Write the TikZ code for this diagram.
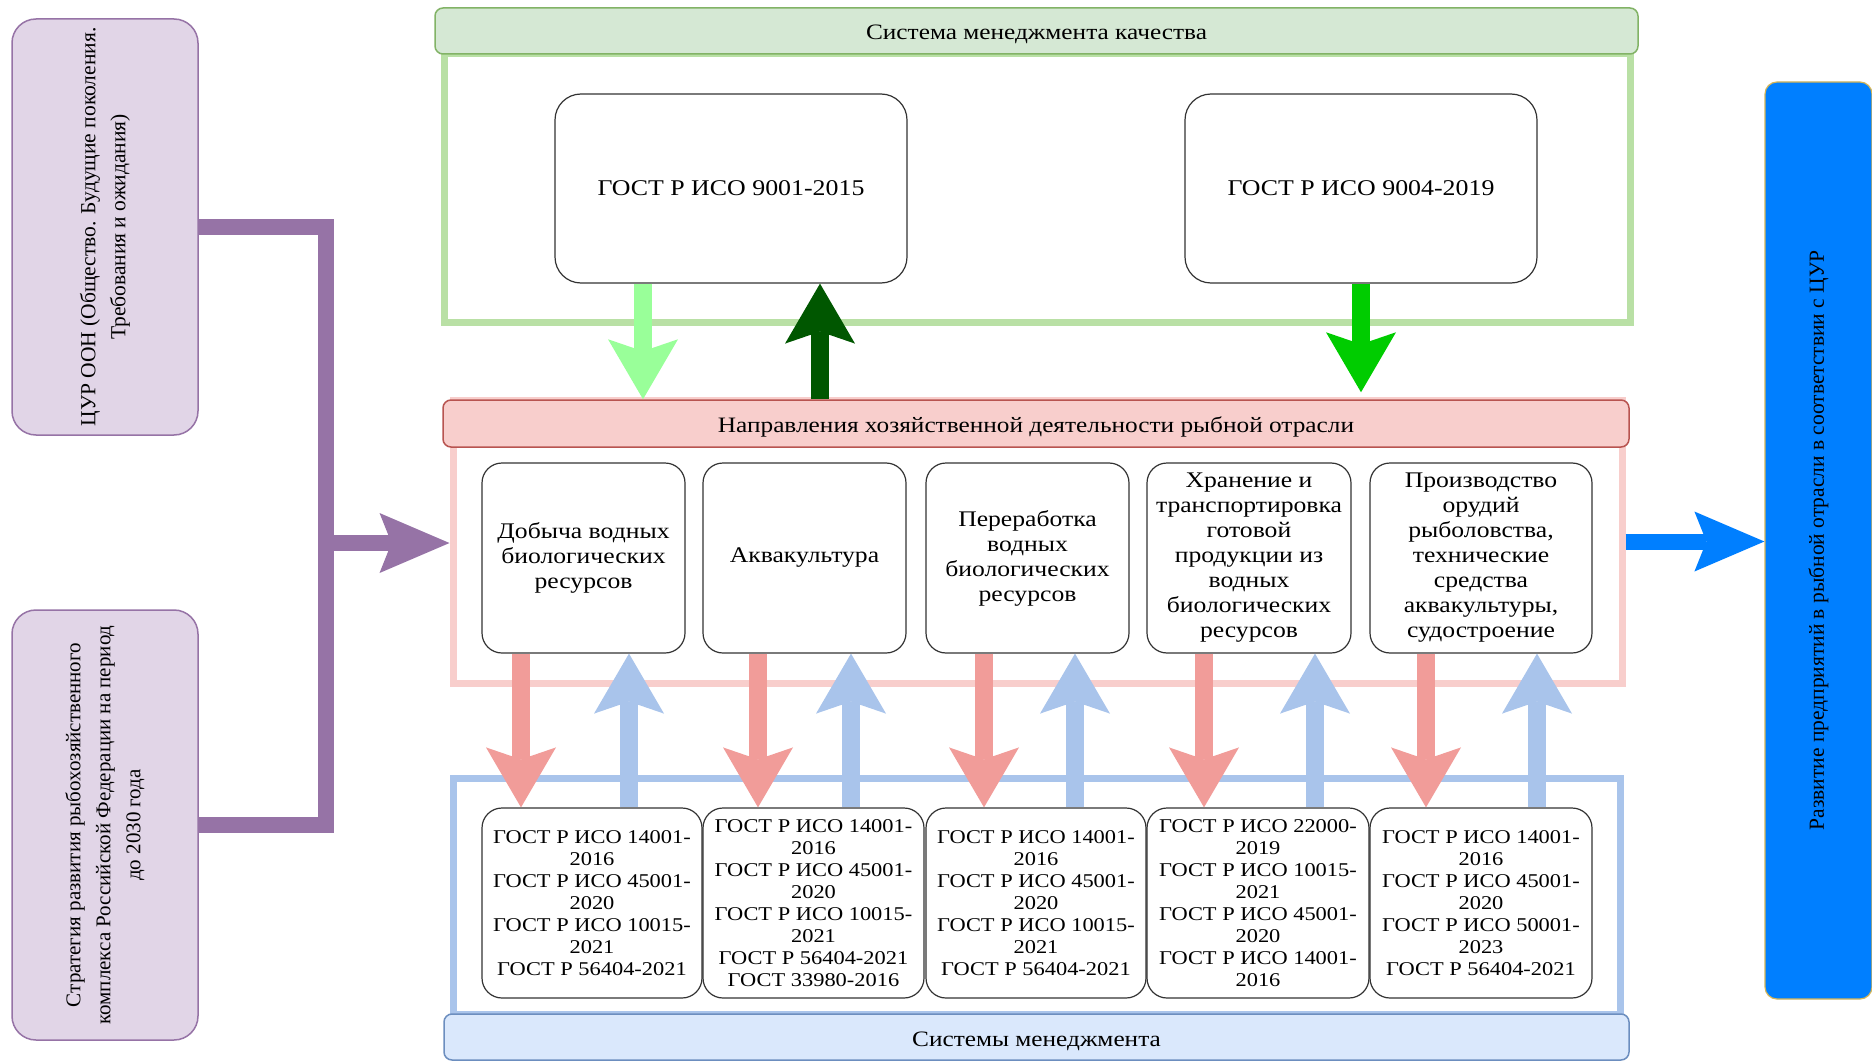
\documentclass[tikz,border=0pt]{standalone}
\usepackage{fontspec}
\setmainfont{Liberation Serif}
\newfontfamily\widefont[FakeStretch=1.15]{Liberation Serif}
\usetikzlibrary{arrows.meta,positioning,calc}

\definecolor{lilac}{HTML}{E1D5E7}
\definecolor{lilacline}{HTML}{9673A6}
\definecolor{qmsfill}{HTML}{D5E8D4}
\definecolor{qmsline}{HTML}{82B366}
\definecolor{qmsgreen}{HTML}{B9E0A5}
\definecolor{dirfill}{HTML}{F8CECC}
\definecolor{dirline}{HTML}{B85450}
\definecolor{msfill}{HTML}{DAE8FC}
\definecolor{msline}{HTML}{6C8EBF}
\definecolor{msblue}{HTML}{A9C4EB}
\definecolor{downred}{HTML}{F19C99}
\definecolor{palegreen}{HTML}{99FF99}
\definecolor{deepgreen}{HTML}{005700}
\definecolor{brightgreen}{HTML}{00CC00}
\definecolor{resultblue}{HTML}{007FFF}
\definecolor{sand}{HTML}{D6B656}

\begin{document}
\begin{tikzpicture}[x=1pt, y=-1pt,
  srcbox/.style={draw=lilacline, fill=lilac, line width=1.5pt, rounded corners=24pt,
    minimum width=186pt},
  lbl/.style={align=center, font=\fontsize{21}{30}\selectfont},
  titlebar/.style={line width=1.5pt, rounded corners=8pt, minimum height=46pt,
    text height=22pt, text depth=4pt, font=\widefont\fontsize{22}{24}\selectfont},
  zone/.style={line width=7pt},
  card/.style={draw=black!80, fill=white, line width=1.2pt, rounded corners=20pt,
    minimum height=190pt, align=center, inner sep=1pt,
    font=\widefont\fontsize{22.3}{25}\selectfont},
  stdcard/.style={card, font=\widefont\fontsize{19.5}{22}\selectfont},
  flow/.style={line width=18pt,
    -{Stealth[length=60pt,width=70pt,inset=12pt,line width=0pt]}},
  wideflow/.style={line width=16pt,
    -{Stealth[length=70pt,width=60pt,inset=12pt,line width=0pt]}}
]
\fill[white] (0,0) rectangle (1872,1062);
\useasboundingbox (0,0) rectangle (1872,1062);

% frames behind the three groups
\node[zone, draw=qmsgreen, minimum width=1186pt, minimum height=268pt] (qmszone) at (1037,188) {};
\node[zone, draw=dirfill, minimum width=1169pt, minimum height=283pt] (dirzone) at (1037.5,541.5) {};
\node[zone, draw=msblue, minimum width=1167pt, minimum height=236pt] (mszone) at (1036.5,896) {};

% title bars
\node[titlebar, draw=qmsline, fill=qmsfill, minimum width=1203pt] (qms) at (1036.5,31) {Система менеджмента качества};
\node[titlebar, draw=dirline, fill=dirfill, minimum width=1186pt, minimum height=47pt] (dirs) at (1036,423.5) {Направления хозяйственной деятельности рыбной отрасли};
\node[titlebar, draw=msline, fill=msfill, minimum width=1185pt] (mgmt) at (1036.5,1037) {Системы менеджмента};

% sources on the left
\node[srcbox, minimum height=416pt] (cur) at (105,227) {};
\node[lbl, rotate=90, font=\fontsize{21.5}{30}\selectfont] (curtext) at (cur) {ЦУР ООН (Общество. Будущие поколения.\\Требования и ожидания)};
\node[srcbox, minimum height=430pt] (strat) at (105,825) {};
\node[lbl, rotate=90] (strattext) at (strat) {Стратегия развития рыбохозяйственного\\комплекса Российской Федерации на период\\до 2030 года};

% quality standards
\node[card, rounded corners=26pt, minimum width=352pt, minimum height=189pt, font=\widefont\fontsize{22.5}{26}\selectfont] (iso9001) at (731,188.5) {ГОСТ Р ИСО 9001-2015};
\node[card, rounded corners=26pt, minimum width=352pt, minimum height=189pt, font=\widefont\fontsize{22.5}{26}\selectfont] (iso9004) at (1361,188.5) {ГОСТ Р ИСО 9004-2019};

% activities
\node[card, minimum width=203pt] (act1) at (583.5,558) {Добыча водных\\биологических\\ресурсов};
\node[card, minimum width=203pt] (act2) at (804.5,558) {Аквакультура};
\node[card, minimum width=203pt] (act3) at (1027.5,558) {Переработка\\водных\\биологических\\ресурсов};
\node[card, minimum width=204pt] (act4) at (1249,558) {Хранение и\\транспортировка\\готовой\\продукции из\\водных\\биологических\\ресурсов};
\node[card, minimum width=222pt] (act5) at (1481,558) {Производство\\орудий\\рыболовства,\\технические\\средства\\аквакультуры,\\судостроение};

% management system standards
\node[stdcard, minimum width=220pt] (std1) at (592,903) {ГОСТ Р ИСО 14001-\\2016\\ГОСТ Р ИСО 45001-\\2020\\ГОСТ Р ИСО 10015-\\2021\\ГОСТ Р 56404-2021};
\node[stdcard, minimum width=221pt] (std2) at (813.5,903) {ГОСТ Р ИСО 14001-\\2016\\ГОСТ Р ИСО 45001-\\2020\\ГОСТ Р ИСО 10015-\\2021\\ГОСТ Р 56404-2021\\ГОСТ 33980-2016};
\node[stdcard, minimum width=220pt] (std3) at (1036,903) {ГОСТ Р ИСО 14001-\\2016\\ГОСТ Р ИСО 45001-\\2020\\ГОСТ Р ИСО 10015-\\2021\\ГОСТ Р 56404-2021};
\node[stdcard, minimum width=222pt] (std4) at (1258,903) {ГОСТ Р ИСО 22000-\\2019\\ГОСТ Р ИСО 10015-\\2021\\ГОСТ Р ИСО 45001-\\2020\\ГОСТ Р ИСО 14001-\\2016};
\node[stdcard, minimum width=222pt] (std5) at (1481,903) {ГОСТ Р ИСО 14001-\\2016\\ГОСТ Р ИСО 45001-\\2020\\ГОСТ Р ИСО 50001-\\2023\\ГОСТ Р 56404-2021};

% outcome on the right
\node[draw=sand, fill=resultblue, line width=1.2pt, rounded corners=12pt, minimum width=107pt, minimum height=917pt] (result) at (1818.5,540.5) {};
\node[lbl, rotate=90, font=\fontsize{21.5}{30}\selectfont] (resulttext) at (result) {Развитие предприятий в рыбной отрасли в соответствии с ЦУР};

% arrows between quality standards and activities
\draw[flow, color=palegreen] ([xshift=-88pt]iso9001.south) -- ([xshift=-88pt]iso9001.south |- dirs.north);
\draw[flow, color=deepgreen] ([xshift=89pt]iso9001.south |- dirs.north) -- ([xshift=89pt]iso9001.south);
\draw[flow, color=brightgreen, shorten >=7pt] (iso9004.south) -- (iso9004.south |- dirs.north);

% arrows between activities and management standards
\foreach \i/\dr/\db in {1/-62.5pt/45.5pt, 2/-46.5pt/46.5pt, 3/-43.5pt/47.5pt, 4/-45pt/66pt, 5/-55pt/56pt} {
  \draw[flow, color=downred] ([xshift=\dr]act\i.south) -- ([xshift=\dr]act\i.south |- std\i.north);
  \draw[flow, color=msblue] ([xshift=\db]act\i.south |- std\i.north) -- ([xshift=\db]act\i.south);
}

% inputs and output
\coordinate (hub) at (326,543);
\draw[lilacline, line width=16pt] (cur.east) -| (hub) |- (strat.east);
\draw[wideflow, color=lilacline] (hub) -- (hub -| dirzone.west);
\draw[wideflow, color=resultblue] (dirzone.east) -- (dirzone.east -| result.west);
\end{tikzpicture}
\end{document}
